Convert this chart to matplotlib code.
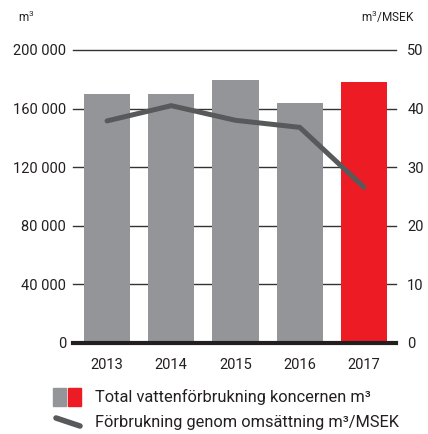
import numpy as np
import matplotlib.pyplot as plt
from matplotlib.patches import Rectangle
from matplotlib.lines import Line2D

plt.rcParams['font.family'] = ['Roboto', 'DejaVu Sans']
plt.rcParams['mathtext.fontset'] = 'custom'
plt.rcParams['mathtext.rm'] = 'Roboto'

years = ['2013', '2014', '2015', '2016', '2017']
vatten = [170000, 170000, 179500, 163500, 178000]
per_msek = [37.9, 40.5, 38.0, 36.8, 26.6]
left_ticks = [0, 40000, 80000, 120000, 160000, 200000]
left_labels = ['0', '40 000', '80 000', '120 000', '160 000', '200 000']
right_ticks = [0, 10, 20, 30, 40, 50]

grey = '#939598'
red = '#ED1C24'
dark = '#58595B'

fig = plt.figure(figsize=(4.28, 4.34), dpi=100)
ax = fig.add_axes([0.1706, 0.2097, 0.7547, 0.6751])
x = np.arange(len(years))
colors = [grey] * 4 + [red]
ax.bar(x, vatten, width=0.72, color=colors, zorder=2)
ax.set_ylim(0, 200000)
ax.set_xlim(-0.53, 4.5)

for t in left_ticks[1:]:
    ax.axhline(t, color='#333333', lw=1.0, zorder=1, clip_on=False)
ax.axhline(0, color='#231F20', lw=3, zorder=3, clip_on=False)

for s in ax.spines.values():
    s.set_visible(False)
ax.set_yticks(left_ticks)
ax.set_yticklabels(left_labels)
ax.set_xticks(x)
ax.set_xticklabels(years)
ax.tick_params(axis='both', length=0, labelsize=10.5, colors='#231F20')
ax.tick_params(axis='y', pad=5)
ax.tick_params(axis='x', pad=11)

ax2 = ax.twinx()
ax2.plot(x, per_msek, color=dark, lw=3.6, solid_capstyle='round', zorder=4)
ax2.set_ylim(0, 50)
ax2.set_yticks(right_ticks)
for s in ax2.spines.values():
    s.set_visible(False)
ax2.tick_params(axis='y', length=0, labelsize=10.5, pad=8, colors='#231F20')

fig.text(18 / 428, 1 - 17 / 434, r'm$^\mathrm{3}$', fontsize=8.5, color='#231F20', va='center')
fig.text(415 / 428, 1 - 17 / 434, r'm$^\mathrm{3}$/MSEK', fontsize=8.5, color='#231F20', va='center', ha='right')

# legend
fig.add_artist(Rectangle((53 / 428, 1 - 406 / 434), 13 / 428, 18 / 434, color=grey, transform=fig.transFigure))
fig.add_artist(Rectangle((68 / 428, 1 - 406 / 434), 13 / 428, 18 / 434, color=red, transform=fig.transFigure))
fig.add_artist(Line2D([56 / 428, 80 / 428], [1 - 418 / 434, 1 - 426 / 434], color=dark, lw=4,
                      solid_capstyle='round', transform=fig.transFigure))
fig.text(95 / 428, 1 - 397 / 434, 'Total vattenförbrukning koncernen m³', fontsize=11.8, color='#231F20', va='center')
fig.text(95 / 428, 1 - 423 / 434, 'Förbrukning genom omsättning m³/MSEK', fontsize=11.8, color='#231F20', va='center')

fig.savefig('out.png', dpi=100)
